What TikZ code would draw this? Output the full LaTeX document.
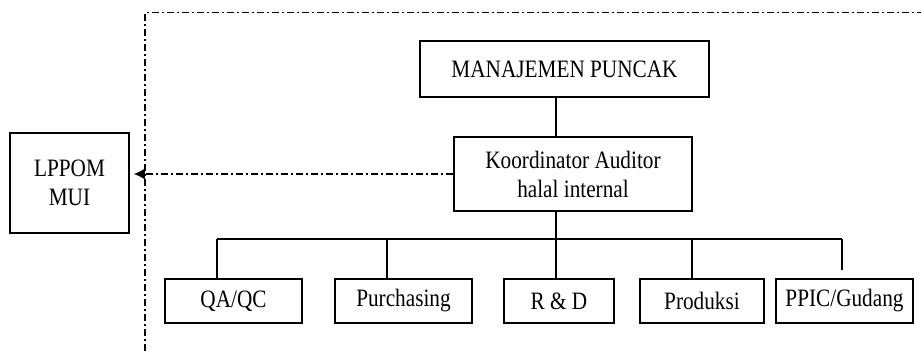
\documentclass[tikz,border=0pt]{standalone}
\usepackage{fontspec}
\setmainfont{Liberation Serif}[FakeStretch = 0.85]
\usetikzlibrary{arrows.meta}

\tikzset{
	orgpicture/.style = {
		x = 1pt,
		y = -1pt,
		line/.style = {
			draw,
			line width = 1.4pt,
		},
		dashdot/.style = {
			draw,
			line width = 1.3pt,
			dash pattern = on 7.5pt off 3pt on 1.5pt off 3pt,
		}
	},
	unitbox/.style = {
		rectangle,
		draw = black,
		line width = 1.5pt,
		inner sep = 0pt,
		align = center,
		font = \fontsize{25}{29}\selectfont
	},
	topbox/.style = {
		unitbox,
		minimum width = 289pt,
		minimum height = 56pt
	},
	subbox/.style = {
		unitbox,
		minimum height = 44pt
	}
}

\begin{document}
\begin{tikzpicture}[orgpicture]
	\useasboundingbox (0,0) rectangle (921,351);

	\node[topbox] (puncak) at (564.5,69) {MANAJEMEN PUNCAK};
	\node[unitbox, minimum width = 238pt, minimum height = 74pt] (koord) at (573,174) {Koordinator Auditor\\halal internal};
	\node[unitbox, minimum width = 119pt, minimum height = 100pt] (lppom) at (69.5,183) {LPPOM\\MUI};

	\node[subbox, minimum width = 137pt] (qa) at (233.5,301) {QA/QC};
	\node[subbox, minimum width = 137pt] (purch) at (403.5,301) {Purchasing};
	\node[subbox, minimum width = 110pt] (rd) at (559,301) {R \& D};
	\node[subbox, minimum width = 124pt] (prod) at (702,301) {Produksi};
	\node[subbox, minimum width = 137pt] (ppic) at (844.5,301) {PPIC/Gudang};

	\coordinate (bus) at (556,239);
	\coordinate (frame-top) at (145,12.5);

	\begin{scope}[every path/.style = line]
		\path (puncak.south -| bus) to (koord.north -| bus);
		\path (koord.south -| bus) to (rd.north -| bus);
		\path ([xshift = -16.5pt]qa.north |- bus) to ([xshift = -2.5pt]ppic.north |- bus);
		\foreach \n/\dx in {qa/-16.5, purch/-16.5, prod/-10}
			\path ([xshift = \dx pt]\n.north) to ([xshift = \dx pt]\n.north |- bus);
		\path[shorten > = 8pt] ([xshift = -2.5pt]ppic.north |- bus) to ([xshift = -2.5pt]ppic.north);
	\end{scope}

	\begin{scope}[every path/.style = dashdot]
		\path (frame-top |- 0,351) -- (frame-top) -- (921,12.5);
		\path[-{Latex[length = 11pt, width = 11pt]}, shorten > = 4pt] (koord.west) to (koord.west -| lppom.east);
	\end{scope}
\end{tikzpicture}
\end{document}
